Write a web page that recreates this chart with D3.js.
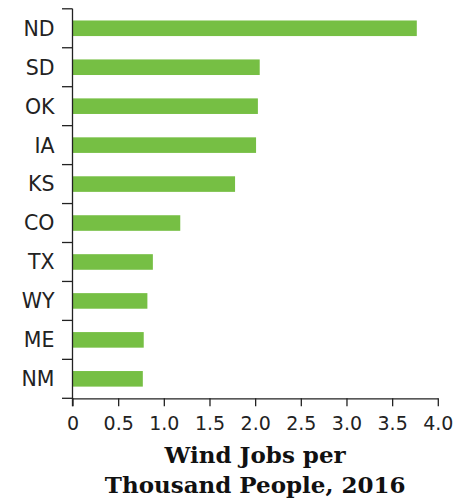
<!DOCTYPE html>
<html>
<head>
<meta charset="utf-8">
<script src="https://cdn.jsdelivr.net/npm/d3@7"></script>
<style>
  html, body { margin: 0; padding: 0; background: #fff; }
  svg { display: block; }
</style>
</head>
<body>
<svg id="chart" width="469" height="499"></svg>
<script>
const states = ["ND", "SD", "OK", "IA", "KS", "CO", "TX", "WY", "ME", "NM"];
const jobsPerThousand = [3.77, 2.05, 2.03, 2.01, 1.78, 1.18, 0.88, 0.82, 0.78, 0.77];
const xTicks = [0, 0.5, 1.0, 1.5, 2.0, 2.5, 3.0, 3.5, 4.0];
const xTickLabels = ["0", "0.5", "1.0", "1.5", "2.0", "2.5", "3.0", "3.5", "4.0"];
const titleLines = ["Wind Jobs per", "Thousand People, 2016"];

const svg = d3.select("#chart");
const ink = "#222";
const green = "#76bf44";

const x = d3.scaleLinear().domain([0, 4]).range([72.5, 437.8]);
const y = d3.scaleBand().domain(states).range([8.8, 398.3]).paddingInner(0.6).paddingOuter(0.3);

// bars
svg.append("g").selectAll("rect")
  .data(states.map((s, i) => ({ s, v: jobsPerThousand[i] })))
  .join("rect")
  .attr("x", x(0))
  .attr("y", d => y(d.s))
  .attr("width", d => x(d.v) - x(0))
  .attr("height", y.bandwidth())
  .attr("fill", green);

// y axis: line + ticks at band boundaries
const step = y.step();
const start = y.range()[0];
const boundaries = d3.range(states.length + 1).map(i => start + i * (398.3 - start) / states.length);
const yg = svg.append("g");
yg.append("line")
  .attr("x1", x(0)).attr("x2", x(0))
  .attr("y1", boundaries[0]).attr("y2", 398.3 + 8)
  .attr("stroke", ink).attr("stroke-width", 1.3);
yg.selectAll("line.tk").data(boundaries).join("line").attr("class", "tk")
  .attr("x1", 62).attr("x2", x(0))
  .attr("y1", d => d).attr("y2", d => d)
  .attr("stroke", ink).attr("stroke-width", 1.3);
yg.selectAll("text").data(states).join("text")
  .attr("x", 54.5)
  .attr("y", d => y(d) + y.bandwidth() / 2)
  .attr("dy", "0.36em")
  .attr("text-anchor", "end")
  .attr("font-family", "DejaVu Sans, sans-serif")
  .attr("font-size", 20.5)
  .attr("fill", ink)
  .text(d => d);

// x axis
const xAxis = d3.axisBottom(x)
  .tickValues(xTicks)
  .tickFormat((d, i) => xTickLabels[i])
  .tickSize(8)
  .tickSizeOuter(0)
  .tickPadding(10);
const xg = svg.append("g").attr("transform", "translate(0,398.3)").call(xAxis);
xg.select(".domain").attr("stroke", ink).attr("stroke-width", 1.3);
xg.selectAll(".tick line").attr("stroke", ink).attr("stroke-width", 1.3);
xg.selectAll(".tick text")
  .attr("font-family", "DejaVu Sans, sans-serif")
  .attr("font-size", 19)
  .attr("fill", ink);

// title
const cx = (x.range()[0] + x.range()[1]) / 2;
svg.append("g").selectAll("text").data(titleLines).join("text")
  .attr("x", cx)
  .attr("y", (d, i) => 463.3 + i * 29.3)
  .attr("text-anchor", "middle")
  .attr("font-family", "DejaVu Serif, serif")
  .attr("font-weight", "bold")
  .attr("font-size", 23)
  .attr("fill", "#111")
  .text(d => d);
</script>
</body>
</html>
